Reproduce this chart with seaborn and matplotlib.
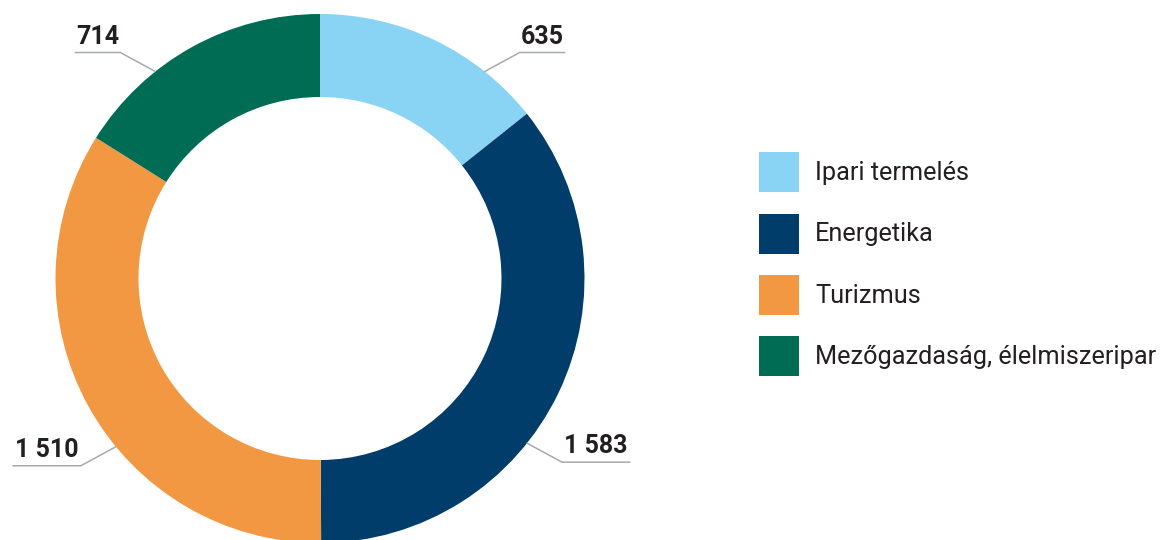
import matplotlib
matplotlib.use("Agg")
import matplotlib.pyplot as plt
import seaborn as sns
import numpy as np

# data
categories = ["Ipari termelés", "Energetika", "Turizmus", "Mezőgazdaság, élelmiszeripar"]
values = [635, 1583, 1510, 714]
colors = ["#89D3F4", "#003D6A", "#F39842", "#006C54"]

sns.set_theme(style="white")
plt.rcParams['font.family'] = ['Roboto', 'DejaVu Sans']

W, H = 1166, 540
fig = plt.figure(figsize=(W / 100, H / 100), dpi=100)
ax = fig.add_axes([0, 0, 1, 1])

cx, cy = 320, H - 278.5
r_out, ring = 264.5, 83

wedges, _ = ax.pie(values, colors=sns.color_palette(colors), startangle=90,
                   counterclock=False, radius=r_out, center=(cx, cy),
                   wedgeprops=dict(width=ring, edgecolor='none'))

# leader lines: angle on ring (deg clockwise from top), side, segment length
leaders = [(38.5, 1, 45), (128.5, 1, 68), (230.5, -1, 68), (321.5, -1, 45)]
line_col = "#A7A9AB"
for v, (ang, side, seg) in zip(values, leaders):
    a = np.deg2rad(ang)
    x0 = cx + r_out * np.sin(a)
    y0 = cy + r_out * np.cos(a)
    up = 1 if np.cos(a) > 0 else -1
    x1 = x0 + side * 35
    y1 = y0 + up * 19
    x2 = x1 + side * seg
    ax.plot([x0, x1, x2], [y0, y1, y1], color=line_col, lw=1.1,
            solid_joinstyle='miter', clip_on=False)
    label = f"{v:,}".replace(",", " ")
    ax.text((x1 + x2) / 2, y1 + 9, label, ha='center', va='baseline',
            fontsize=18, fontweight='bold', color="#231F20")

ax.set_xlim(0, W)
ax.set_ylim(0, H)
ax.set_aspect('equal')
ax.axis('off')

lfs = 18.2
fs = lfs * 100 / 72
hh = (40 / fs - 0.245) / 0.65
ax.legend(wedges, categories, loc='upper left',
          bbox_to_anchor=(759 / W, 1 - 152 / H), bbox_transform=fig.transFigure,
          frameon=False, fontsize=lfs, borderpad=0, borderaxespad=0,
          handlelength=40 / fs, handleheight=hh,
          labelspacing=21.5 / fs, handletextpad=16 / fs, labelcolor="#231F20")

fig.savefig("out.png", dpi=100)
